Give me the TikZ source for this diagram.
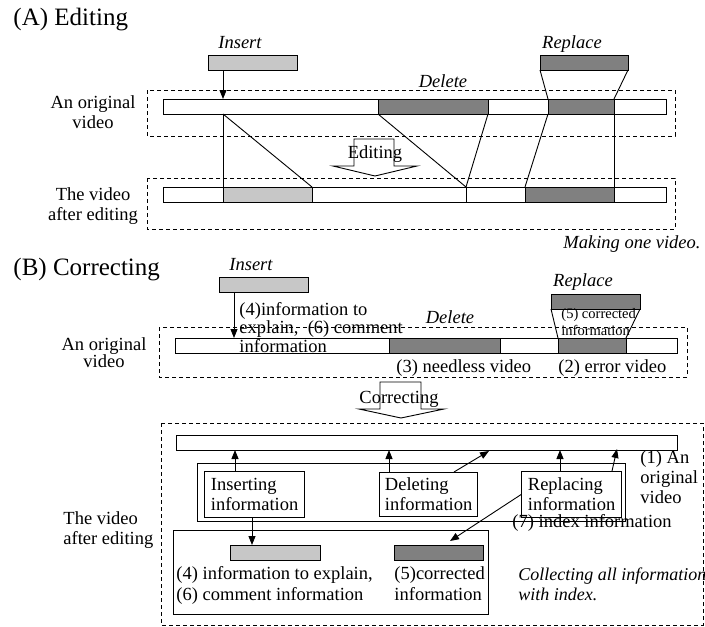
\documentclass[tikz,border=0pt]{standalone}
\usepackage{fontspec}
\setmainfont{Liberation Serif}
\usetikzlibrary{arrows.meta,calc}
\definecolor{lightseg}{gray}{0.78}
\definecolor{darkseg}{gray}{0.5}
\tikzset{
  heading/.style={inner sep=0pt, font=\fontsize{25}{28}\selectfont},
  txt/.style={inner sep=0pt, align=#1, font=\fontsize{18.5}{20}\selectfont},
  txt/.default=left,
  emph/.style={inner sep=0pt, align=left, font=\fontsize{18.5}{20}\selectfont\itshape},
  smalltxt/.style={inner sep=0pt, align=left, font=\fontsize{14.5}{17}\selectfont},
  bar/.style={draw, fill=white, inner sep=0pt, outer sep=0pt, minimum height=15pt, anchor=north west},
  seg/.style={bar, fill=#1},
  infobox/.style={draw, line width=1.2pt, txt, inner sep=0pt, anchor=north west, minimum width=100pt, minimum height=46pt},
  dashframe/.style={draw, dash pattern=on 4pt off 3pt},
  blockarrow/.style={draw, fill=white},
  arr/.style={-{Triangle[length=9pt,width=7pt]}}
}

\begin{document}
\begin{tikzpicture}[x=1pt, y=-1pt, line width=0.9pt]
\useasboundingbox (0,0) rectangle (705,627);

% (A) editing
\node[heading, anchor=base west] (titleA) at (13,25) {(A) Editing};
\draw[dashframe] (147,90) rectangle (675,136);
\draw[dashframe] (147,178) rectangle (675,229);

\node[bar, minimum width=503pt] (origA) at (163,99) {};
\node[seg=darkseg, minimum width=110pt] (delA) at (378,99) {};
\node[seg=darkseg, minimum width=66pt] (repA) at (548,99) {};
\node[bar, minimum width=503pt] (newA) at (163,187) {};
\node[seg=lightseg, minimum width=89pt] (insA) at (223,187) {};
\node[seg=darkseg, minimum width=89pt] (repA2) at (525,187) {};
\coordinate (cutA) at (466,187);
\draw (cutA) -- (cutA |- newA.south);

\node[seg=lightseg, minimum width=89pt] (insboxA) at (208,55) {};
\node[seg=darkseg, minimum width=88pt] (repboxA) at (540,55) {};
\node[emph, anchor=base] (insLblA) at (240,48) {Insert};
\node[emph, anchor=base] (repLblA) at (572,48) {Replace};
\node[emph, anchor=base] (delLblA) at (443,87) {Delete};

\draw[arr] (insboxA.south west -| insA.north west) -- (insA.north west |- origA.north);
\draw (insA.north west |- origA.south) -- (insA.north west);
\draw (insA.north west |- origA.south) -- (insA.north east);
\draw (delA.south west) -- (cutA);
\draw (delA.south east) -- (cutA);
\draw (repA.south west) -- (repA2.north west);
\draw (repA.south east) -- (repA2.north east);
\draw (repboxA.south west) -- (repA.north west);
\draw (repboxA.south east) -- (repA.north east);

\draw[blockarrow] (354,139) -- (394,139) -- (394,166) -- (417,166) -- (375,176) -- (333,166) -- (354,166) -- cycle;
\node[txt, anchor=base] (editLbl) at (375,158) {Editing};

% multi-line labels: base = last line
\node[txt=center, anchor=base] (origLblA) at (93,128) {An original\\video};
\node[txt=center, anchor=base] (newLblA) at (93,220) {The video\\after editing};
\node[emph, anchor=base east] (noteA) at (701,248) {Making one video.};

% (B) correcting
\node[heading, anchor=base west] (titleB) at (13,275) {(B) Correcting};
\draw[dashframe] (159,327) rectangle (687,377);
\draw[dashframe] (161,423) rectangle (703,625);

\node[bar, minimum width=502pt] (origB) at (175,338) {};
\node[seg=darkseg, minimum width=111pt] (delB) at (389,338) {};
\node[seg=darkseg, minimum width=68pt] (repB) at (558,338) {};
\node[seg=lightseg, minimum width=89pt] (insboxB) at (219,277) {};
\node[seg=darkseg, minimum width=89pt] (repboxB) at (551,294) {};
\node[emph, anchor=base] (insLblB) at (251,270) {Insert};
\node[emph, anchor=base] (repLblB) at (583,286) {Replace};
\node[emph, anchor=base] (delLblB) at (450,323) {Delete};

\coordinate (insPtB) at (234,338);
\draw[arr] (insboxB.south west -| insPtB) -- (insPtB);
\draw (repboxB.south west) -- (repB.north west);
\draw (repboxB.south east) -- (repB.north east);

\node[txt, anchor=base west, font=\fontsize{18.5}{18.5}\selectfont] (explLbl) at (239,352) {(4)information to\\explain,\ \ (6) comment\\information};
\node[smalltxt, anchor=base west] (corrLbl) at (561,335) {(5) corrected\\information};
\node[txt, anchor=base west] (needLbl) at (396,372) {(3) needless video};
\node[txt, anchor=base west] (errLbl) at (558,372) {(2) error video};
\node[txt=center, anchor=base, font=\fontsize{18.5}{17}\selectfont] (origLblB) at (104,367) {An original\\video};

\draw[blockarrow] (380,382) -- (421,382) -- (421,409) -- (444,409) -- (401,418) -- (359,409) -- (380,409) -- cycle;
\node[txt, anchor=base] (corrArrLbl) at (399,403) {Correcting};

\node[bar, minimum width=501pt] (newB) at (176,435) {};
\node[draw, anchor=north west, minimum width=428pt, minimum height=58pt] (idxFrame) at (197,463) {};
\node[infobox] (insInfo) at (204,471) {Inserting\\information};
\node[infobox, minimum width=98pt, minimum height=44pt] (delInfo) at (379,472) {Deleting\\information};
\node[infobox] (repInfo) at (521,471) {Replacing\\information};
\node[draw, anchor=north west, minimum width=315pt, minimum height=84pt] (store) at (173,530) {};
\node[seg=lightseg, minimum width=90pt] (insData) at (230,545) {};
\node[seg=darkseg, minimum width=89pt] (repData) at (394,545) {};

\coordinate (delEnd) at (489,451);
\coordinate (repEnd) at (617,449);
\coordinate (corrEnd) at (450,541);
\draw[arr] ([xshift=31pt]insInfo.north west) -- ([xshift=31pt]insInfo.north west |- newB.south);
\draw[arr] ([xshift=10pt]delInfo.north west) -- ([xshift=10pt]delInfo.north west |- newB.south);
\draw[arr] ([xshift=75pt]delInfo.north west) -- (delEnd);
\draw[arr] ([xshift=39pt]repInfo.north west) -- ([xshift=39pt]repInfo.north west |- newB.south);
\draw[arr] ([xshift=91pt]repInfo.north west) -- (repEnd);
\draw[arr] ([xshift=48pt]insInfo.south west) -- ([xshift=48pt]insInfo.south west |- insData.north);
\draw[arr] (repInfo.west) -- (corrEnd);

\node[txt, anchor=base west] (origLblB2) at (640,503) {(1) An\\original\\video};
\node[txt, anchor=base west] (idxLbl) at (512,527) {(7) index information};
\node[txt, anchor=base west, font=\fontsize{18.5}{21}\selectfont] (insDataLbl) at (176,600) {(4) information to explain,\\(6) comment information};
\node[txt, anchor=base west, font=\fontsize{18.5}{21}\selectfont] (repDataLbl) at (394,600) {(5)corrected\\information};
\node[emph, anchor=base west, font=\fontsize{18}{20}\selectfont\itshape] (noteB) at (518,600) {Collecting all information\\with index.};
\node[txt, anchor=base west] (newLblB) at (63,544) {The video\\after editing};
\end{tikzpicture}
\end{document}
